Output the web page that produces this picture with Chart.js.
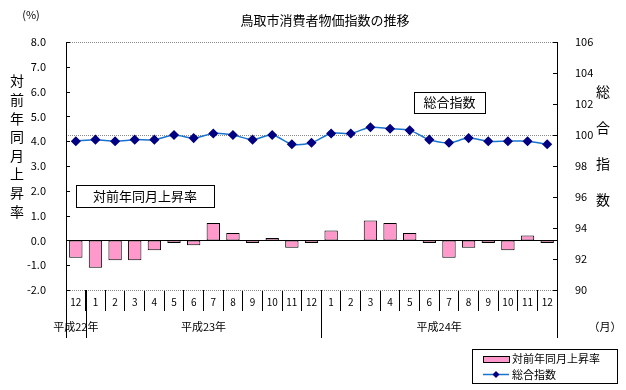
<!DOCTYPE html>
<html>
<head>
<meta charset="utf-8">
<script src="https://cdn.jsdelivr.net/npm/chart.js@4/dist/chart.umd.min.js"></script>
<style>html,body{margin:0;background:#fff}canvas{display:block}</style>
</head>
<body>
<canvas id="c" width="626" height="390"></canvas>
<script>
// data
const months = ['12','1','2','3','4','5','6','7','8','9','10','11','12','1','2','3','4','5','6','7','8','9','10','11','12'];
const yearLabels = ['平成22年', '平成23年', '平成24年'];
const yearSpans = [[0, 0], [1, 12], [13, 24]];
const rateValues = [-0.7, -1.1, -0.8, -0.8, -0.4, -0.1, -0.2, 0.7, 0.3, -0.1, 0.1, -0.3, -0.1,
                    0.4, 0.0, 0.8, 0.7, 0.3, -0.1, -0.7, -0.3, -0.1, -0.4, 0.2, -0.1];
const indexValues = [99.6, 99.7, 99.6, 99.7, 99.7, 100.0, 99.8, 100.1, 100.0, 99.7, 100.0, 99.4, 99.5,
                     100.1, 100.1, 100.5, 100.4, 100.3, 99.7, 99.5, 99.8, 99.6, 99.6, 99.6, 99.4];
const rateRange = [-2, 8, 1];
const indexRange = [90, 106, 2];
const indexRefLine = 100;

const FONT = '"Noto Sans CJK JP", "Noto Sans", sans-serif';
const PINK = '#FF99CC';
const NAVY = '#000080';
const LINEBLUE = '#1874CD';

function hline(ctx, x1, x2, y, color, dash) {
  ctx.save();
  ctx.strokeStyle = color; ctx.lineWidth = 1; ctx.setLineDash(dash || []);
  ctx.beginPath(); ctx.moveTo(x1, Math.round(y) + 0.5); ctx.lineTo(x2, Math.round(y) + 0.5); ctx.stroke();
  ctx.restore();
}
function vline(ctx, x, y1, y2) {
  ctx.beginPath(); ctx.moveTo(Math.round(x) + 0.5, y1); ctx.lineTo(Math.round(x) + 0.5, y2); ctx.stroke();
}
function textBox(ctx, label, cx, cy, w, h) {
  ctx.fillStyle = '#fff'; ctx.fillRect(cx - w / 2, cy - h / 2, w, h);
  ctx.strokeStyle = '#000'; ctx.lineWidth = 1;
  ctx.strokeRect(Math.round(cx - w / 2) + 0.5, Math.round(cy - h / 2) + 0.5, w, h);
  ctx.fillStyle = '#000'; ctx.textAlign = 'center'; ctx.textBaseline = 'middle';
  ctx.fillText(label, cx, cy);
}
function vertText(ctx, label, x, y0, step) {
  ctx.textAlign = 'center'; ctx.textBaseline = 'middle';
  [...label].forEach((ch, i) => ctx.fillText(ch, x, y0 + i * step));
}

const decor = {
  id: 'decor',
  beforeDatasetsDraw(chart) {
    const { ctx, chartArea: a, scales } = chart;
    hline(ctx, a.left, a.right, scales.y.getPixelForValue(rateRange[1]), '#888', [1, 1]);
    hline(ctx, a.left, a.right, scales.y.getPixelForValue(rateRange[0]), '#888', [1, 1]);
    hline(ctx, a.left, a.right, scales.y1.getPixelForValue(indexRefLine), '#888', [1, 1]);
  },
  afterDatasetsDraw(chart) {
    const { ctx, chartArea: a, scales } = chart;
    hline(ctx, a.left, a.right, scales.y.getPixelForValue(0), '#000');
    ctx.save();
    ctx.strokeStyle = '#000'; ctx.lineWidth = 1;
    vline(ctx, a.left, a.top, a.bottom);
    vline(ctx, a.right, a.top, a.bottom);
    // inward tick marks
    scales.y.ticks.forEach(t => hline(ctx, a.left, a.left + 4, scales.y.getPixelForValue(t.value), '#000'));
    scales.y1.ticks.forEach(t => hline(ctx, a.right - 4, a.right, scales.y1.getPixelForValue(t.value), '#000'));
    // year separators and labels
    const x = scales.x;
    const half = x.width / months.length / 2;
    const bounds = yearSpans.map(s => x.getPixelForValue(s[0]) - half);
    bounds.push(x.getPixelForValue(yearSpans[yearSpans.length - 1][1]) + half);
    bounds.forEach(b => vline(ctx, b, a.bottom, a.bottom + 48));
    ctx.font = '11px ' + FONT; ctx.fillStyle = '#000';
    ctx.textAlign = 'center'; ctx.textBaseline = 'middle';
    yearSpans.forEach((s, i) => {
      const cx = (x.getPixelForValue(s[0]) + x.getPixelForValue(s[1])) / 2;
      ctx.fillText(yearLabels[i], cx, a.bottom + 37);
    });
    ctx.fillText('（月）', 605, a.bottom + 37);
    // titles
    ctx.font = '13px ' + FONT;
    ctx.fillText('鳥取市消費者物価指数の推移', 325, 20);
    ctx.font = '11px ' + FONT;
    ctx.fillText('(%)', 31, 15);
    ctx.font = '14px ' + FONT;
    vertText(ctx, '対前年同月上昇率', 17, 81, 18.6);
    vertText(ctx, '総合指数', 603, 92, 36);
    // in-plot series boxes
    ctx.font = '13px ' + FONT;
    textBox(ctx, '対前年同月上昇率', 145, 196, 138, 22);
    textBox(ctx, '総合指数', 449.5, 102.5, 71, 21);
    // legend
    ctx.strokeStyle = '#000';
    ctx.strokeRect(472.5, 349.5, 145, 34);
    ctx.fillStyle = PINK; ctx.fillRect(483, 356, 26, 6);
    ctx.strokeRect(483.5, 356.5, 26, 6);
    ctx.strokeStyle = LINEBLUE; ctx.lineWidth = 1.5;
    ctx.beginPath(); ctx.moveTo(483, 374.5); ctx.lineTo(509, 374.5); ctx.stroke();
    ctx.fillStyle = NAVY;
    ctx.beginPath(); ctx.moveTo(496, 371); ctx.lineTo(499.5, 374.5); ctx.lineTo(496, 378); ctx.lineTo(492.5, 374.5); ctx.closePath(); ctx.fill();
    ctx.fillStyle = '#000'; ctx.font = '11px ' + FONT; ctx.textAlign = 'left';
    ctx.fillText('対前年同月上昇率', 512, 359);
    ctx.fillText('総合指数', 512, 375);
    ctx.restore();
  }
};

new Chart(document.getElementById('c'), {
  data: {
    labels: months,
    datasets: [
      {
        type: 'line', label: '総合指数', data: indexValues, yAxisID: 'y1',
        borderColor: LINEBLUE, borderWidth: 1.5, tension: 0.3,
        pointStyle: 'rectRot', pointRadius: 4, pointBackgroundColor: NAVY, pointBorderColor: NAVY,
        order: 0
      },
      {
        type: 'bar', label: '対前年同月上昇率', data: rateValues, yAxisID: 'y',
        backgroundColor: PINK, borderColor: '#000', borderWidth: 1, borderSkipped: false,
        categoryPercentage: 1, barPercentage: 0.68, order: 1
      }
    ]
  },
  options: {
    responsive: false, animation: false,
    layout: { padding: { left: 0, right: 29, top: 42, bottom: 78 } },
    plugins: { legend: { display: false }, tooltip: { enabled: false } },
    scales: {
      x: {
        offset: true,
        grid: { offset: true, drawOnChartArea: false, drawTicks: true, tickLength: 21, color: '#000' },
        border: { display: false },
        ticks: { color: '#000', font: { family: FONT, size: 10 }, padding: -15, maxRotation: 0, autoSkip: false },
        afterFit: s => { s.height = 22; }
      },
      y: {
        position: 'left', min: rateRange[0], max: rateRange[1],
        grid: { display: false }, border: { display: false },
        ticks: { stepSize: rateRange[2], color: '#000', padding: 12, font: { family: FONT, size: 11 },
                 callback: v => v.toFixed(1) },
        afterFit: s => { s.width = 66; }
      },
      y1: {
        position: 'right', min: indexRange[0], max: indexRange[1],
        grid: { display: false }, border: { display: false },
        ticks: { stepSize: indexRange[2], color: '#000', padding: 10, font: { family: FONT, size: 11 } },
        afterFit: s => { s.width = 40; }
      }
    }
  },
  plugins: [decor]
});
</script>
</body>
</html>
